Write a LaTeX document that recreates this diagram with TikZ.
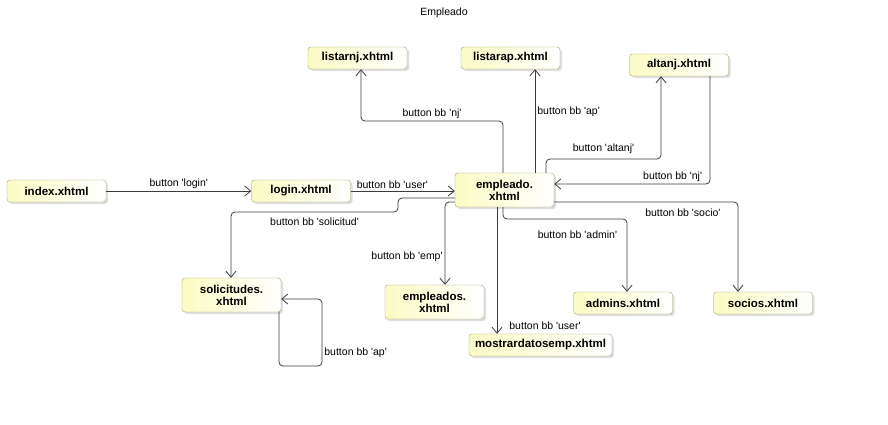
\documentclass[tikz,border=0pt]{standalone}
\usepackage{fontspec}
\setmainfont{Liberation Sans}
\usetikzlibrary{arrows.meta}
\usetikzlibrary{shadows}

\definecolor{pageFill}{HTML}{FBFBC4}
\definecolor{pageDraw}{HTML}{A89F62}
\definecolor{linkColor}{HTML}{3C3C3C}
\newcommand{\sq}{\textquotesingle}

\begin{document}
\begin{tikzpicture}[x = 1pt, y = -1pt, font = \fontsize{10.5}{12}\selectfont]
	\tikzstyle{pageStyle} = [rectangle, rounded corners = 3pt, draw = pageDraw, left color = pageFill, right color = white, drop shadow = {shadow xshift = 2pt, shadow yshift = -2pt, fill = black!25}, minimum width = 99pt, minimum height = 22pt, inner sep = 1pt, align = center, font = \fontsize{11.5}{12}\selectfont\bfseries]
	\tikzstyle{twoLineStyle} = [pageStyle, minimum height = 34pt]
	\tikzstyle{linkStyle} = [-{Straight Barb[length = 6pt, width = 10pt]}, draw = linkColor, line width = 0.8pt, rounded corners = 4pt, nodes = {inner sep = 2pt, text = black}]
	\useasboundingbox (0,0) rectangle (888,424);
	\node (title) at (444, 13) {Empleado};
	\node[pageStyle] (index) at (56.5, 191) {index.xhtml};
	\node[pageStyle] (login) at (301, 191) {login.xhtml};
	\node[twoLineStyle] (emp) at (504.5, 190) {empleado.\\xhtml};
	\node[pageStyle] (listarnj) at (357.5, 58) {listarnj.xhtml};
	\node[pageStyle] (listarap) at (510.5, 58) {listarap.xhtml};
	\node[pageStyle] (altanj) at (679, 65) {altanj.xhtml};
	\node[twoLineStyle] (solic) at (231.5, 295) {solicitudes.\\xhtml};
	\node[twoLineStyle] (empleados) at (434.5, 302) {empleados.\\xhtml};
	\node[pageStyle] (admins) at (623, 303) {admins.xhtml};
	\node[pageStyle] (socios) at (763, 303) {socios.xhtml};
	\node[pageStyle, minimum width = 143pt] (mostrar) at (540.5, 345) {mostrardatosemp.xhtml};
	\draw[linkStyle] (index) -- node[above] {button \sq login\sq} (login);
	\draw[linkStyle] (login.east) -- node[above, pos = 0.4] {button bb \sq user\sq} (login.east -| emp.west);
	\draw[linkStyle] (emp.north -| 503,0) |- node[above, pos = 0.75] {button bb \sq nj\sq} (361,121) -- (listarnj.south -| 361,0);
	\draw[linkStyle] (emp.north -| 535,0) -- node[right, pos = 0.59] {button bb \sq ap\sq} (listarap.south -| 535,0);
	\draw[linkStyle] (emp.north -| 546,0) |- node[above = 3pt, pos = 0.75] {button \sq altanj\sq} (661,159) -- (altanj.south -| 661,0);
	\draw[linkStyle] (altanj.south -| 710,0) |- node[above, pos = 0.62] {button bb \sq nj\sq} (emp.east |- 0,184);
	\draw[linkStyle] (emp.west |- 0,198) -| (398,212) -| node[below = 3pt, pos = 0.25] {button bb \sq solicitud\sq} (solic.north -| 231,0);
	\draw[linkStyle] (emp.west |- 0,202) -| node[left, pos = 0.83] {button bb \sq emp\sq} (empleados.north -| 445,0);
	\draw[linkStyle] (emp.south -| 497,0) -- node[right = 10pt, pos = 0.94] {button bb \sq user\sq} (mostrar.north -| 497,0);
	\draw[linkStyle] (emp.south -| 503,0) |- node[below = 9pt, pos = 0.8] {button bb \sq admin\sq} (627,219) -- (admins.north -| 627,0);
	\draw[linkStyle] (emp.east |- 0,202) -| node[below = 4pt, pos = 0.35] {button bb \sq socio\sq} (socios.north -| 738,0);
	\draw[linkStyle] (solic.south -| 279,0) |- (322,366) |- node[right, pos = 0.1] {button bb \sq ap\sq} (solic.east |- 0,299);
\end{tikzpicture}
\end{document}
